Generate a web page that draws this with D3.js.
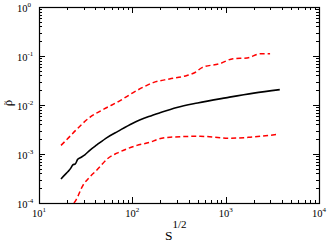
<!DOCTYPE html>
<html>
<head>
<meta charset="utf-8">
<script src="https://cdn.jsdelivr.net/npm/d3@7"></script>
<style>
body { margin: 0; background: #fff; }
text { font-family: "Liberation Serif", "DejaVu Serif", serif; fill: #000; }
</style>
</head>
<body>
<svg id="graph"></svg>
<script>
var screenWidth = 327;
var screenHeight = 242;

// data
var xTicks = [10, 100, 1000, 10000];
var xExps = ["1", "2", "3", "4"];
var yTicks = [1e-4, 1e-3, 1e-2, 1e-1, 1];
var yExps = ["-4", "-3", "-2", "-1", "0"];

var meanX = [17.2, 19, 20.5, 22, 23, 24.5, 26, 28, 31, 35, 42, 54, 70, 100, 150, 200, 300, 500, 1000, 2000, 3800];
var meanY = [3.1e-4, 3.8e-4, 4.4e-4, 5.2e-4, 6.0e-4, 6.3e-4, 7.8e-4, 8.5e-4, 9.6e-4, 1.19e-3, 1.55e-3, 2.19e-3, 2.9e-3, 4.2e-3, 5.8e-3, 7.0e-3, 8.9e-3, 1.1e-2, 1.4e-2, 1.75e-2, 2.06e-2];

var upperX = [17.2, 20, 25, 35, 50, 74, 100, 130, 167, 250, 385, 470, 558, 871, 1200, 1700, 2350, 2990];
var upperY = [1.5e-3, 2.0e-3, 3.1e-3, 5.6e-3, 8.3e-3, 1.23e-2, 1.75e-2, 2.3e-2, 2.86e-2, 3.4e-2, 4.0e-2, 4.6e-2, 5.8e-2, 7.0e-2, 8.8e-2, 9.1e-2, 0.111, 0.111];

var lowerX = [23.7, 24.9, 29.6, 35, 41.7, 55, 68.5, 90, 112, 155, 188, 254, 532, 1115, 1830, 3550];
var lowerY = [1.0e-4, 1.15e-4, 2.3e-4, 3.4e-4, 4.7e-4, 8.2e-4, 1.04e-3, 1.3e-3, 1.5e-3, 1.74e-3, 2.0e-3, 2.2e-3, 2.3e-3, 2.1e-3, 2.2e-3, 2.5e-3];

var plotLeft = 39, plotRight = 319, plotTop = 7, plotBottom = 203;

var svg = d3.select('#graph')
	.attr('width', screenWidth)
	.attr('height', screenHeight);

var x = d3.scaleLog().domain([10, 10000]).range([plotLeft, plotRight]);
var y = d3.scaleLog().domain([1e-4, 1]).range([plotBottom, plotTop]);

// minor ticks 2..9 per decade
function minors(lo, hi) {
	var out = [];
	for (var d = lo; d < hi * 0.99; d *= 10) {
		for (var k = 2; k <= 9; k++) out.push(d * k);
	}
	return out;
}
var xMinor = minors(10, 10000);
var yMinor = minors(1e-4, 1);

var majorLen = 6, minorLen = 3;

// clip
svg.append('clipPath').attr('id', 'clip')
	.append('rect')
	.attr('x', plotLeft).attr('y', plotTop)
	.attr('width', plotRight - plotLeft).attr('height', plotBottom - plotTop);

// curves
var line = d3.line()
	.x(function(d) { return x(d[0]); })
	.y(function(d) { return y(d[1]); })
	.curve(d3.curveMonotoneX);

var plot = svg.append('g').attr('clip-path', 'url(#clip)');

plot.append('path')
	.datum(d3.zip(upperX, upperY))
	.attr('d', line)
	.attr('fill', 'none')
	.attr('stroke', '#ff0000')
	.attr('stroke-width', 1.5)
	.attr('stroke-dasharray', '5,3');

plot.append('path')
	.datum(d3.zip(lowerX, lowerY))
	.attr('d', line)
	.attr('fill', 'none')
	.attr('stroke', '#ff0000')
	.attr('stroke-width', 1.5)
	.attr('stroke-dasharray', '5,3');

plot.append('path')
	.datum(d3.zip(meanX, meanY))
	.attr('d', line)
	.attr('fill', 'none')
	.attr('stroke', '#000')
	.attr('stroke-width', 1.6);

// ticks, inward, on all four sides
var ticks = svg.append('g').attr('stroke', '#000').attr('stroke-width', 1);

function xTickLines(vals, len) {
	vals.forEach(function(v) {
		var px = Math.round(x(v)) + 0.5;
		ticks.append('line').attr('x1', px).attr('x2', px).attr('y1', plotBottom).attr('y2', plotBottom - len);
		ticks.append('line').attr('x1', px).attr('x2', px).attr('y1', plotTop).attr('y2', plotTop + len);
	});
}
function yTickLines(vals, len) {
	vals.forEach(function(v) {
		var py = Math.round(y(v)) + 0.5;
		ticks.append('line').attr('y1', py).attr('y2', py).attr('x1', plotLeft).attr('x2', plotLeft + len);
		ticks.append('line').attr('y1', py).attr('y2', py).attr('x1', plotRight).attr('x2', plotRight - len);
	});
}
xTickLines(xMinor, minorLen);
xTickLines(xTicks, majorLen);
yTickLines(yMinor, minorLen);
yTickLines(yTicks, majorLen);

// frame
svg.append('rect')
	.attr('x', plotLeft + 0.5).attr('y', plotTop + 0.5)
	.attr('width', plotRight - plotLeft).attr('height', plotBottom - plotTop)
	.attr('fill', 'none')
	.attr('stroke', '#000')
	.attr('stroke-width', 1.2);

// tick labels
var xl = svg.append('g').selectAll('text')
	.data(xTicks)
	.enter()
	.append('text')
	.attr('x', function(d) { return x(d) - 7; })
	.attr('y', 217)
	.attr('font-size', 10.5);
xl.append('tspan').text('10');
xl.append('tspan')
	.attr('font-size', 7)
	.attr('dy', -5)
	.text(function(d, i) { return xExps[i]; });

var yl = svg.append('g').selectAll('text')
	.data(yTicks)
	.enter()
	.append('text')
	.attr('x', 17)
	.attr('y', function(d) { return y(d) + 4.5; })
	.attr('font-size', 10.5);
yl.append('tspan').text('10');
yl.append('tspan')
	.attr('font-size', 7)
	.attr('dy', -5)
	.text(function(d, i) { return yExps[i]; });

// axis titles
var xt = svg.append('text')
	.attr('x', 165)
	.attr('y', 240)
	.attr('font-size', 13.5);
xt.append('tspan').text('S');
xt.append('tspan').attr('font-size', 11).attr('dy', -12).text('1/2');

var yt = svg.append('g').attr('transform', 'translate(11.5,103) rotate(-90)');
yt.append('text')
	.attr('text-anchor', 'middle')
	.attr('font-size', 13)
	.text('\u03c1');
yt.append('text')
	.attr('text-anchor', 'middle')
	.attr('y', -4)
	.attr('font-size', 8)
	.text('~');
</script>
</body>
</html>
